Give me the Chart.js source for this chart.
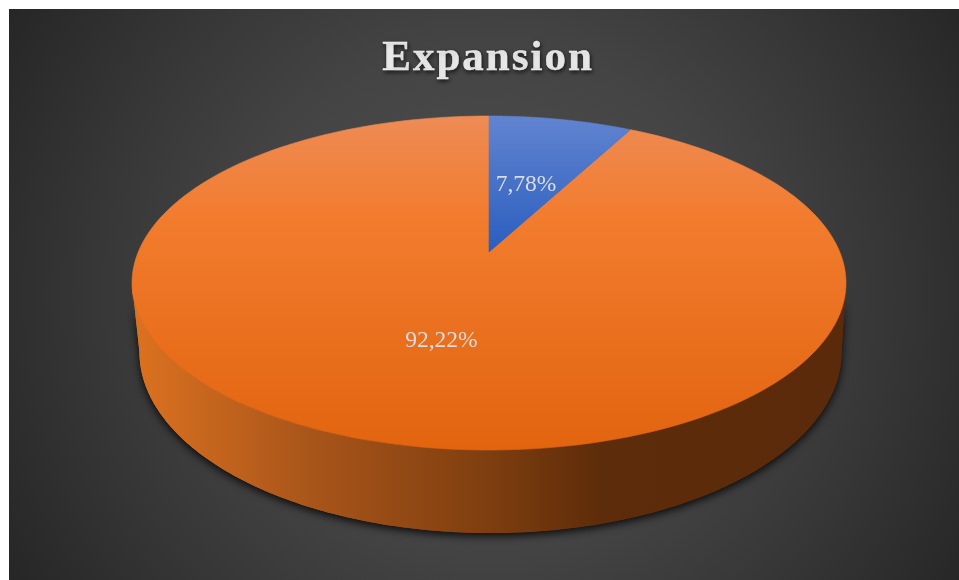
<!DOCTYPE html>
<html>
<head>
	<title>Expansion</title>
	<script src="https://cdn.jsdelivr.net/npm/chart.js"></script>
	<style>
		html, body { margin: 0; padding: 0; background: #fff; }
		.panel {
			position: absolute;
			left: 9px;
			top: 9px;
			width: 950px;
			height: 571px;
			background: radial-gradient(circle 560px at 480px 285px, #505050 0, #444 45%, #373737 70%, #262626 100%);
		}
	</style>
</head>
<body>
	<div class="panel">
		<canvas id="expansionPie" width="950" height="571"></canvas>
	</div>
<script>
	const chartTitle = 'Expansion';
	const categories = ['Yes', 'No'];
	const shares = [7.78, 92.22];

	// tilted disc: horizontal and vertical reach per unit radius, and how fast the far side shrinks
	const REACH_X = 1.4436;
	const REACH_Y = 0.6636;
	const PERSPECTIVE = 0.1857;
	// lower rim of the disc, same tilt with its own reach and offset from the top face
	const BASE_REACH_X = 1.4195;
	const BASE_REACH_Y = 0.7193;
	const BASE_DROP = 66.4;
	const BASE_SHIFT = 1.5;
	const STEPS = 180;

	const faceColors = [
		[[0, '#6184d0'], [1, '#2a5ebf']],
		[[0, '#ee8b55'], [0.3, '#f27c2e'], [1, '#e2640f']]
	];
	const wallColors = [
		[0, '#dc7220'], [0.25, '#a9551a'], [0.5, '#7e3e0f'], [0.66, '#5d2c0a'], [1, '#5a2a0a']
	];

	// point on a rim, theta measured clockwise from the top of the disc
	const project = (arc, theta, scale, base) => {
		const u = Math.sin(theta) * scale;
		const v = Math.cos(theta) * scale;
		const w = 1 + PERSPECTIVE * v;
		const rx = base ? BASE_REACH_X : REACH_X;
		const ry = base ? BASE_REACH_Y : REACH_Y;
		return {
			x: arc.x + (base ? BASE_SHIFT : 0) + arc.outerRadius * rx * u / w,
			y: arc.y + (base ? BASE_DROP : 0) - arc.outerRadius * ry * v / w
		};
	};

	const toTheta = (angle) => angle + Math.PI / 2;

	const traceRim = (ctx, arc, from, to, base) => {
		for (let i = 0; i <= STEPS; i++) {
			const p = project(arc, from + (to - from) * i / STEPS, 1, base);
			ctx.lineTo(p.x, p.y);
		}
	};

	const makeGradient = (ctx, x0, y0, x1, y1, stops) => {
		const g = ctx.createLinearGradient(x0, y0, x1, y1);
		stops.forEach((s) => g.addColorStop(s[0], s[1]));
		return g;
	};

	const drawWall = (ctx, arc) => {
		// only the front of the disc shows a wall
		const edge = Math.acos(-PERSPECTIVE);
		const from = Math.max(toTheta(arc.startAngle), edge);
		const to = Math.min(toTheta(arc.endAngle), Math.PI * 2 - edge);
		if (to <= from) return;
		const left = project(arc, Math.PI * 2 - edge, 1, false).x;
		const right = project(arc, edge, 1, false).x;
		ctx.save();
		ctx.beginPath();
		traceRim(ctx, arc, from, to, false);
		traceRim(ctx, arc, to, from, true);
		ctx.closePath();
		ctx.fillStyle = makeGradient(ctx, left, 0, right, 0, wallColors);
		ctx.shadowColor = 'rgba(0, 0, 0, 0.85)';
		ctx.shadowBlur = 9;
		ctx.shadowOffsetY = 3;
		ctx.fill();
		// second pass without the shadow keeps the edges clean
		ctx.shadowColor = 'transparent';
		ctx.fill();
		ctx.restore();
	};

	const drawFace = (ctx, arc, stops) => {
		const from = toTheta(arc.startAngle);
		const to = toTheta(arc.endAngle);
		const top = project(arc, 0, 1, false).y;
		// the gradient runs down to the lowest point of the slice
		const bottom = to - from > Math.PI ? project(arc, Math.PI, 1, false).y : arc.y;
		const fill = makeGradient(ctx, 0, top, 0, bottom, stops);
		ctx.save();
		ctx.beginPath();
		ctx.moveTo(arc.x, arc.y);
		traceRim(ctx, arc, from, to, false);
		ctx.closePath();
		ctx.fillStyle = fill;
		ctx.strokeStyle = fill;
		ctx.lineWidth = 0.6;
		ctx.fill();
		ctx.stroke();
		ctx.restore();
	};

	const tiltedPie = {
		id: 'tiltedPie',
		beforeDatasetDraw(chart, args) {
			const ctx = chart.ctx;
			const arcs = args.meta.data;
			arcs.forEach((arc) => drawWall(ctx, arc));
			// big slice first so the small one sits cleanly on top
			drawFace(ctx, arcs[1], faceColors[1]);
			drawFace(ctx, arcs[0], faceColors[0]);
			return false;
		},
		afterDraw(chart) {
			const ctx = chart.ctx;
			const arcs = chart.getDatasetMeta(0).data;
			ctx.save();
			ctx.textAlign = 'center';
			ctx.textBaseline = 'alphabetic';
			ctx.font = '23.5px "Liberation Serif"';
			ctx.fillStyle = '#dcdcdc';
			arcs.forEach((arc, i) => {
				const mid = toTheta((arc.startAngle + arc.endAngle) / 2);
				const p = project(arc, mid, 0.495, false);
				ctx.fillText(shares[i].toFixed(2).replace('.', ',') + '%', p.x - 1.5, p.y + 10);
			});
			ctx.font = 'bold 43px "Liberation Serif"';
			ctx.letterSpacing = '2px';
			ctx.fillStyle = '#f2f2f2';
			ctx.strokeStyle = '#f2f2f2';
			ctx.lineWidth = 0.4;
			ctx.shadowColor = 'rgba(0, 0, 0, 0.7)';
			ctx.shadowBlur = 4;
			ctx.shadowOffsetX = 1;
			ctx.shadowOffsetY = 2;
			ctx.fillText(chartTitle, 479, 61);
			ctx.strokeText(chartTitle, 479, 61);
			ctx.restore();
		}
	};

	const expansionPie = new Chart(document.getElementById('expansionPie'), {
		type: 'pie',
		data: {
			labels: categories,
			datasets: [{
				data: shares,
				backgroundColor: ['#4472c4', '#ed7d31'],
				borderWidth: 0
			}]
		},
		options: {
			responsive: false,
			animation: false,
			layout: { padding: { left: 10, top: 0, right: 0, bottom: 85 } },
			plugins: {
				legend: { display: false },
				tooltip: { enabled: false }
			}
		},
		plugins: [tiltedPie]
	});
</script>
</body>
</html>
